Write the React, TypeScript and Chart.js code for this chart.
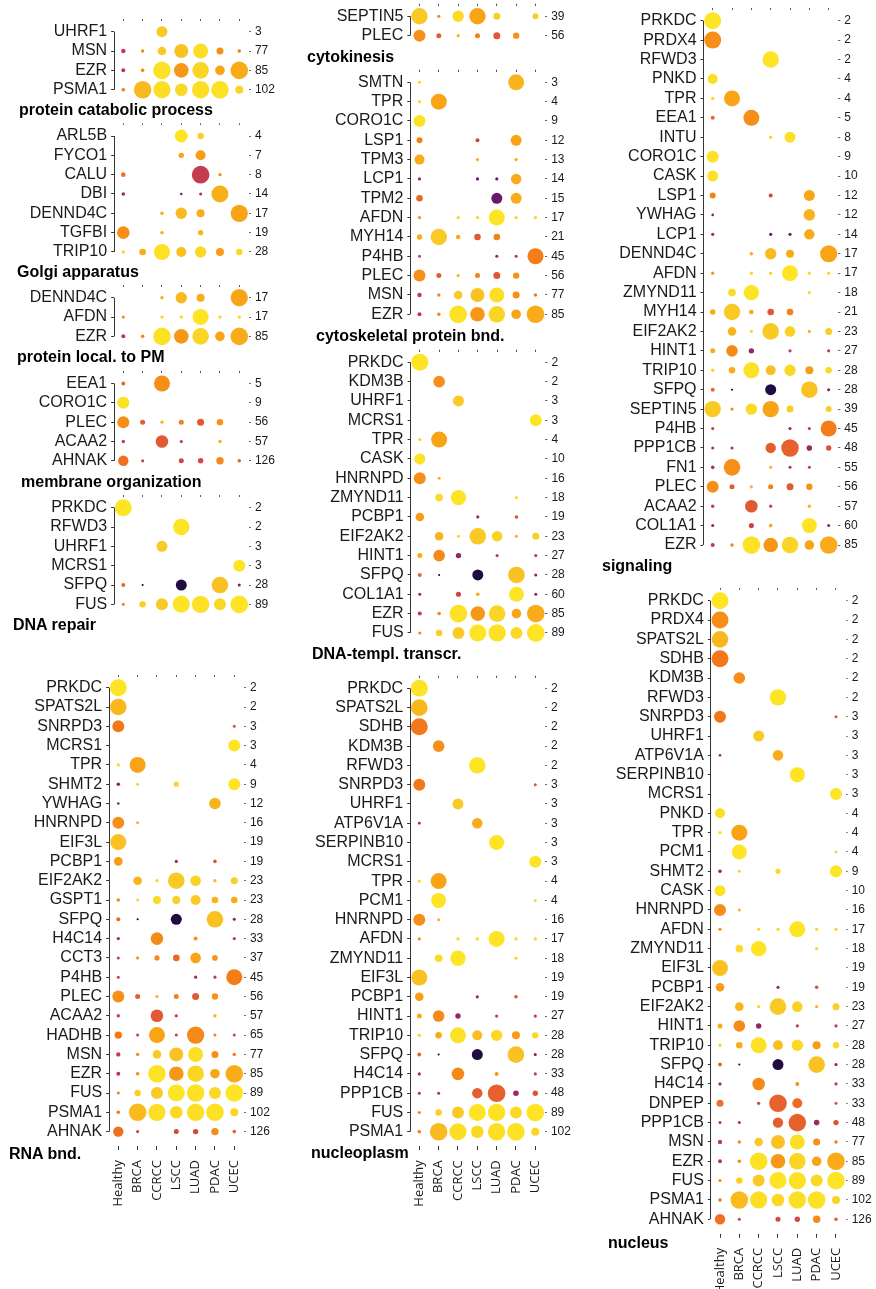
import React, { useEffect, useRef } from "react";
import { Chart, registerables } from "chart.js";
Chart.register(...registerables);

const CANCERS = ["Healthy", "BRCA", "CCRCC", "LSCC", "LUAD", "PDAC", "UCEC"];
type Cell = [number, number] | null; // [magnitude, colour value 0-100]
const _ = null;

// ---- per-gene values (Healthy, BRCA, CCRCC, LSCC, LUAD, PDAC, UCEC) ----
const UHRF1: Cell[] = [_, _, [5.5, 90], _, _, _, _];
const MSN: Cell[] = [[2.2, 52], [1.7, 74], [4.3, 90], [7, 88], [7.5, 97], [3.5, 75], [1.7, 70]];
const EZR: Cell[] = [[2, 50], [1.8, 74], [8.8, 98], [7.3, 77], [8.3, 94], [4.8, 80], [8.8, 82]];
const PSMA1: Cell[] = [[1.8, 70], [8.8, 86], [8.6, 97], [6.3, 95], [8.7, 97], [8.8, 98], [4, 94]];
const ARL5B: Cell[] = [_, _, _, [6.5, 99], [3.2, 92], _, _];
const FYCO1: Cell[] = [_, _, _, [2.7, 80], [5, 78], _, _];
const CALU: Cell[] = [[2.3, 68], _, _, _, [8.8, 52], [1.7, 76], _];
const DBI: Cell[] = [[1.8, 42], _, _, [1.3, 33], [1.5, 45], [8.5, 83], _];
const DENND4C: Cell[] = [_, _, [1.7, 82], [5.7, 86], [4, 82], _, [8.6, 80]];
const TGFBI: Cell[] = [[6.3, 75], _, [1.7, 82], _, [2.6, 84], _, _];
const TRIP10: Cell[] = [[1.7, 94], [3.3, 82], [8, 98], [5, 87], [5.7, 95], [4, 78], [3.2, 95]];
const AFDN: Cell[] = [[1.6, 76], _, [1.6, 94], [1.6, 94], [8, 99], [1.6, 94], [1.6, 94]];
const EEA1: Cell[] = [[2, 66], _, [8, 75], _, _, _, _];
const CORO1C: Cell[] = [[6, 98], _, _, _, _, _, _];
const PLEC: Cell[] = [[6, 75], [2.5, 63], [1.6, 84], [2.5, 72], [3.5, 62], [3.2, 76], _];
const ACAA2: Cell[] = [[1.7, 52], _, [6.3, 62], [1.6, 52], _, [1.7, 84], _];
const AHNAK: Cell[] = [[5.2, 68], [1.6, 55], _, [2.5, 57], [2.7, 57], [3.7, 74], [1.8, 64]];
const PRKDC: Cell[] = [[8.5, 99], _, _, _, _, _, _];
const RFWD3: Cell[] = [_, _, _, [8.2, 99], _, _, _];
const MCRS1: Cell[] = [_, _, _, _, _, _, [6, 99]];
const SFPQ: Cell[] = [[2, 66], [1, 3], _, [5.5, 12], _, [8.3, 88], [1.5, 35]];
const FUS: Cell[] = [[1.5, 72], [3.2, 92], [6, 90], [8.5, 99], [8.7, 98], [6, 95], [8.8, 99]];
const SEPTIN5: Cell[] = [[8.2, 90], [1.6, 74], [5.7, 96], [8.2, 80], [3.5, 92], _, [3, 92]];
const SMTN: Cell[] = [[1.6, 95], _, _, _, _, [8, 84], _];
const TPR: Cell[] = [[1.6, 95], [8, 80], _, _, _, _, _];
const LSP1: Cell[] = [[3, 72], _, _, [2, 55], _, [5.5, 80], _];
const TPM3: Cell[] = [[5, 82], _, _, [1.6, 82], _, [1.6, 82], _];
const LCP1: Cell[] = [[1.6, 42], _, _, [1.6, 30], [1.6, 32], [5.2, 82], _];
const TPM2: Cell[] = [[3.3, 66], _, _, _, [5.5, 30], [5.5, 82], _];
const MYH14: Cell[] = [[2.7, 82], [8.2, 90], [2.3, 82], [3.3, 62], [3.3, 72], _, _];
const P4HB: Cell[] = [[1.5, 52], _, _, _, [1.6, 42], [1.6, 52], [8, 71]];
const KDM3B: Cell[] = [_, [5.8, 75], _, _, _, _, _];
const CASK: Cell[] = [[5.5, 98], _, _, _, _, _, _];
const HNRNPD: Cell[] = [[6, 75], [1.5, 84], _, _, _, _, _];
const ZMYND11: Cell[] = [_, [3.8, 96], [7.7, 99], _, _, [1.6, 95], _];
const PCBP1: Cell[] = [[4.3, 78], _, _, [1.6, 42], _, [1.8, 60], _];
const EIF2AK2: Cell[] = [_, [4.3, 84], [1.6, 94], [8.3, 90], [5.3, 93], [1.6, 84], [3.5, 92]];
const HINT1: Cell[] = [[2.5, 82], [5.8, 74], [2.7, 40], _, [1.6, 52], _, [1.6, 52]];
const COL1A1: Cell[] = [[1.5, 38], _, [2.6, 55], [1.8, 80], _, [7.5, 99], [1.5, 38]];
const SPATS2L: Cell[] = [[8.3, 85], _, _, _, _, _, _];
const SNRPD3: Cell[] = [[6, 70], _, _, _, _, _, [1.5, 60]];
const SHMT2: Cell[] = [[1.8, 40], [1.5, 94], _, [2.6, 94], _, _, [6, 99]];
const YWHAG: Cell[] = [[1.3, 35], _, _, _, _, [5.8, 84], _];
const EIF3L: Cell[] = [[8, 88], _, _, _, _, _, _];
const GSPT1: Cell[] = [[1.8, 74], [1.5, 94], [4, 96], [4, 92], [5, 90], [3.3, 84], [3.3, 82]];
const H4C14: Cell[] = [[1.6, 42], _, [6.3, 74], _, [2, 76], _, [1.6, 52]];
const CCT3: Cell[] = [[1.5, 52], [1.6, 76], [2.6, 74], [3.3, 66], [5.3, 80], [2.8, 76], _];
const HADHB: Cell[] = [[3.7, 70], [1.5, 52], [8, 80], [1.5, 52], [8.7, 74], [1.5, 72], [1.5, 55]];
const SDHB: Cell[] = [[8.5, 70], _, _, _, _, _, _];
const ATP6V1A: Cell[] = [[1.4, 45], _, _, [5.3, 82], _, _, _];
const SERPINB10: Cell[] = [_, _, _, _, [7.5, 99], _, _];
const PCM1: Cell[] = [_, [7.5, 99], _, _, _, _, [1.5, 95]];
const PPP1CB: Cell[] = [[1.5, 45], [1.5, 45], _, [5.2, 63], [8.8, 64], [2.8, 42], [2.7, 60]];
const PRDX4: Cell[] = [[8.5, 75], _, _, _, _, _, _];
const PNKD: Cell[] = [[5, 97], _, _, _, _, _, _];
const INTU: Cell[] = [_, _, _, [1.6, 94], [5.5, 97], _, _];
const FN1: Cell[] = [[1.8, 45], [8.3, 75], _, [1.5, 82], [1.5, 45], [1.5, 50], _];
const DNPEP: Cell[] = [[3.5, 68], _, [1.6, 55], [8.8, 64], [5, 67], _, [1.5, 60]];

const GENES: Record<string, Cell[]> = {
  UHRF1, MSN, EZR, PSMA1, ARL5B, FYCO1, CALU, DBI, DENND4C, TGFBI, TRIP10, AFDN, EEA1, CORO1C,
  PLEC, ACAA2, AHNAK, PRKDC, RFWD3, MCRS1, SFPQ, FUS, SEPTIN5, SMTN, TPR, LSP1, TPM3, LCP1, TPM2,
  MYH14, P4HB, KDM3B, CASK, HNRNPD, ZMYND11, PCBP1, EIF2AK2, HINT1, COL1A1, SPATS2L, SNRPD3, SHMT2,
  YWHAG, EIF3L, GSPT1, H4C14, CCT3, HADHB, SDHB, ATP6V1A, SERPINB10, PCM1, PPP1CB, PRDX4, PNKD,
  INTU, FN1, DNPEP,
};

const COUNTS: Record<string, number> = {
  PRKDC: 2, PRDX4: 2, SPATS2L: 2, SDHB: 2, KDM3B: 2, RFWD3: 2, UHRF1: 3, SNRPD3: 3, ATP6V1A: 3,
  SERPINB10: 3, MCRS1: 3, SMTN: 3, ARL5B: 4, PNKD: 4, TPR: 4, PCM1: 4, EEA1: 5, FYCO1: 7, CALU: 8,
  INTU: 8, CORO1C: 9, SHMT2: 9, CASK: 10, LSP1: 12, YWHAG: 12, TPM3: 13, DBI: 14, LCP1: 14, TPM2: 15,
  HNRNPD: 16, DENND4C: 17, AFDN: 17, ZMYND11: 18, TGFBI: 19, EIF3L: 19, PCBP1: 19, MYH14: 21,
  EIF2AK2: 23, GSPT1: 23, HINT1: 27, TRIP10: 28, SFPQ: 28, H4C14: 33, DNPEP: 33, CCT3: 37,
  SEPTIN5: 39, P4HB: 45, PPP1CB: 48, FN1: 55, PLEC: 56, ACAA2: 57, COL1A1: 60, HADHB: 65, MSN: 77,
  EZR: 85, FUS: 89, PSMA1: 102, AHNAK: 126,
};

// ---- panel gene lists ----
const G_CATABOLIC = ["UHRF1", "MSN", "EZR", "PSMA1"];
const G_GOLGI = ["ARL5B", "FYCO1", "CALU", "DBI", "DENND4C", "TGFBI", "TRIP10"];
const G_PM = ["DENND4C", "AFDN", "EZR"];
const G_MEMBRANE = ["EEA1", "CORO1C", "PLEC", "ACAA2", "AHNAK"];
const G_DNAREP = ["PRKDC", "RFWD3", "UHRF1", "MCRS1", "SFPQ", "FUS"];
const G_RNA = ["PRKDC", "SPATS2L", "SNRPD3", "MCRS1", "TPR", "SHMT2", "YWHAG", "HNRNPD", "EIF3L", "PCBP1",
  "EIF2AK2", "GSPT1", "SFPQ", "H4C14", "CCT3", "P4HB", "PLEC", "ACAA2", "HADHB", "MSN", "EZR", "FUS",
  "PSMA1", "AHNAK"];
const G_CYTOKIN = ["SEPTIN5", "PLEC"];
const G_CYTOSK = ["SMTN", "TPR", "CORO1C", "LSP1", "TPM3", "LCP1", "TPM2", "AFDN", "MYH14", "P4HB", "PLEC",
  "MSN", "EZR"];
const G_TRANSCR = ["PRKDC", "KDM3B", "UHRF1", "MCRS1", "TPR", "CASK", "HNRNPD", "ZMYND11", "PCBP1",
  "EIF2AK2", "HINT1", "SFPQ", "COL1A1", "EZR", "FUS"];
const G_NUCLEOPLASM = ["PRKDC", "SPATS2L", "SDHB", "KDM3B", "RFWD3", "SNRPD3", "UHRF1", "ATP6V1A",
  "SERPINB10", "MCRS1", "TPR", "PCM1", "HNRNPD", "AFDN", "ZMYND11", "EIF3L", "PCBP1", "HINT1", "TRIP10",
  "SFPQ", "H4C14", "PPP1CB", "FUS", "PSMA1"];
const G_SIGNALING = ["PRKDC", "PRDX4", "RFWD3", "PNKD", "TPR", "EEA1", "INTU", "CORO1C", "CASK", "LSP1",
  "YWHAG", "LCP1", "DENND4C", "AFDN", "ZMYND11", "MYH14", "EIF2AK2", "HINT1", "TRIP10", "SFPQ", "SEPTIN5",
  "P4HB", "PPP1CB", "FN1", "PLEC", "ACAA2", "COL1A1", "EZR"];
const G_NUCLEUS = ["PRKDC", "PRDX4", "SPATS2L", "SDHB", "KDM3B", "RFWD3", "SNRPD3", "UHRF1", "ATP6V1A",
  "SERPINB10", "MCRS1", "PNKD", "TPR", "PCM1", "SHMT2", "CASK", "HNRNPD", "AFDN", "ZMYND11", "EIF3L",
  "PCBP1", "EIF2AK2", "HINT1", "TRIP10", "SFPQ", "H4C14", "DNPEP", "PPP1CB", "MSN", "EZR", "FUS", "PSMA1",
  "AHNAK"];

type PanelSpec = {
  title: string; genes: string[]; cx: number; cy: number; rowH?: number;
  tx: number; ty: number; axis?: boolean;
};

const CELL = 19.33;
const LW = 110;

const PANELS: PanelSpec[] = [
  { title: "protein catabolic process", genes: G_CATABOLIC, cx: 123.3, cy: 31.7, tx: 19, ty: 115 },
  { title: "Golgi apparatus", genes: G_GOLGI, cx: 123.3, cy: 136, tx: 17, ty: 277 },
  { title: "protein local. to PM", genes: G_PM, cx: 123.3, cy: 297.7, tx: 17, ty: 362 },
  { title: "membrane organization", genes: G_MEMBRANE, cx: 123.3, cy: 383.5, tx: 21, ty: 487 },
  { title: "DNA repair", genes: G_DNAREP, cx: 123.3, cy: 507.7, tx: 13, ty: 630 },
  { title: "RNA bnd.", genes: G_RNA, cx: 118.3, cy: 687.7, rowH: 19.3, tx: 9, ty: 1159, axis: true },
  { title: "cytokinesis", genes: G_CYTOKIN, cx: 419.5, cy: 16.3, tx: 307, ty: 62 },
  { title: "cytoskeletal protein bnd.", genes: G_CYTOSK, cx: 419.5, cy: 82.3, tx: 316, ty: 341 },
  { title: "DNA-templ. transcr.", genes: G_TRANSCR, cx: 419.8, cy: 362.3, tx: 312, ty: 659 },
  { title: "nucleoplasm", genes: G_NUCLEOPLASM, cx: 419.3, cy: 688.3, rowH: 19.28, tx: 311, ty: 1158, axis: true },
  { title: "signaling", genes: G_SIGNALING, cx: 712.7, cy: 20.7, rowH: 19.42, tx: 602, ty: 571 },
  { title: "nucleus", genes: G_NUCLEUS, cx: 720, cy: 600.7, tx: 608, ty: 1248, axis: true },
];

const STOPS: [number, string][] = [
  [0, "#000004"], [10, "#160b39"], [20, "#420a68"], [30, "#6a176e"], [40, "#932667"],
  [50, "#bc3754"], [60, "#dd513a"], [70, "#f37819"], [80, "#f9a416"], [90, "#f9c925"], [100, "#fde725"],
];
function hex(h: string) {
  return [parseInt(h.slice(1, 3), 16), parseInt(h.slice(3, 5), 16), parseInt(h.slice(5, 7), 16)];
}
function colorOf(v: number) {
  for (let i = 0; i < STOPS.length - 1; i++) {
    const [a, ca] = STOPS[i];
    const [b, cb] = STOPS[i + 1];
    if (v <= b) {
      const t = (v - a) / (b - a);
      const A = hex(ca), B = hex(cb);
      const c = A.map((x, k) => Math.round(x + (B[k] - x) * t));
      return `rgb(${c[0]},${c[1]},${c[2]})`;
    }
  }
  return STOPS[STOPS.length - 1][1];
}
const radiusOf = (m: number) => m;

const FONT = "'Liberation Sans', Arial, Helvetica, sans-serif";

const cappedAxis = {
  id: "cappedAxis",
  beforeDatasetsDraw(chart: any) {
    const ys = chart.scales.y;
    const n = ys.ticks.length;
    const ctx = chart.ctx;
    const x = Math.round(chart.chartArea.left) + 0.5;
    ctx.save();
    ctx.strokeStyle = "#333";
    ctx.lineWidth = 1;
    ctx.beginPath();
    ctx.moveTo(x, ys.getPixelForValue(0));
    ctx.lineTo(x, ys.getPixelForValue(n - 1));
    ctx.stroke();
    ctx.restore();
  },
};

function Panel({ p }: { p: PanelSpec }) {
  const ref = useRef<HTMLCanvasElement>(null);
  const rowH = p.rowH ?? CELL;
  const n = p.genes.length;
  const yMin = -0.55;
  const yMax = n - 1 + (p.axis ? 0.75 : 0.55);
  const chartH = (yMax - yMin) * rowH;
  const chartTop = p.cy + yMin * rowH;
  const chartLeft = p.cx - CELL / 2;
  const top = Math.floor(chartTop - 16);
  const left = Math.floor(chartLeft - LW);
  const T = chartTop - top;
  const L = chartLeft - left;
  const BH = p.axis ? 90 : 16;
  const H = Math.ceil(T + chartH + BH);
  const bottomSpace = H - T - chartH;
  const W = 300;
  const RW = W - L - 7 * CELL;

  useEffect(() => {
    if (!ref.current) return;
    const data: any[] = [];
    const colors: string[] = [];
    p.genes.forEach((g, gi) => {
      (GENES[g] || []).forEach((c, ci) => {
        if (c) {
          data.push({ x: ci, y: gi, r: radiusOf(c[0]) });
          colors.push(colorOf(c[1]));
        }
      });
    });
    const colTicks = (s: any) => { s.ticks = CANCERS.map((_, i) => ({ value: i })); };
    const rowTicks = (s: any) => { s.ticks = p.genes.map((_, i) => ({ value: i })); };
    const chart = new Chart(ref.current, {
      type: "bubble",
      data: {
        datasets: [{
          data, backgroundColor: colors, borderWidth: 0, hoverBorderWidth: 0, hoverRadius: 0,
          clip: false as any,
        }],
      },
      options: {
        responsive: false,
        animation: false,
        events: [],
        layout: { padding: { left: 0, right: 0, top: 0, bottom: p.axis ? 0 : bottomSpace }, autoPadding: false } as any,
        plugins: { legend: { display: false }, tooltip: { enabled: false } },
        scales: {
          x: {
            type: "linear", position: "bottom", min: -0.5, max: 6.5, bounds: "data",
            display: !!p.axis,
            afterBuildTicks: colTicks,
            afterFit: (s: any) => { s.height = p.axis ? bottomSpace : 0; },
            ticks: {
              autoSkip: false, minRotation: 90, maxRotation: 90, padding: 10, color: "#1a1a1a",
              font: { family: "'Open Sans', sans-serif", size: 13 },
              callback: (v: any) => CANCERS[v as number],
            },
            grid: { drawOnChartArea: false, tickLength: 4, color: "#333" },
            border: { display: false },
          },
          xt: {
            type: "linear", position: "top", min: -0.5, max: 6.5, bounds: "data",
            afterBuildTicks: colTicks,
            afterFit: (s: any) => { s.height = T; },
            ticks: { display: false },
            grid: { drawOnChartArea: false, tickLength: 2, color: "#555" },
            border: { display: false },
          },
          y: {
            type: "linear", position: "left", min: yMin, max: yMax, reverse: true, bounds: "data",
            afterBuildTicks: rowTicks,
            afterFit: (s: any) => { s.width = L; },
            ticks: {
              autoSkip: false, padding: 4, color: "#1a1a1a",
              font: { family: FONT, size: 16 },
              callback: (v: any) => p.genes[v as number],
            },
            grid: { drawOnChartArea: false, tickLength: 2.5, color: "#333" },
            border: { display: false },
          },
          yr: {
            type: "linear", position: "right", min: yMin, max: yMax, reverse: true, bounds: "data",
            afterBuildTicks: rowTicks,
            afterFit: (s: any) => { s.width = RW; },
            ticks: {
              autoSkip: false, padding: 4, color: "#1a1a1a",
              font: { family: FONT, size: 12 },
              callback: (v: any) => String(COUNTS[p.genes[v as number]]),
            },
            grid: { drawOnChartArea: false, tickLength: 2, color: "#666" },
            border: { display: false },
          },
        } as any,
      },
      plugins: [cappedAxis],
    });
    return () => chart.destroy();
  }, []);

  return (
    <canvas
      ref={ref}
      width={W}
      height={H}
      style={{ position: "absolute", left, top, width: W, height: H }}
    />
  );
}

export default function App() {
  return (
    <div style={{ position: "absolute", left: 0, top: 0, width: 876, height: 1289, overflow: "hidden", background: "#fff" }}>
      {PANELS.map((p) => (
        <Panel key={p.title} p={p} />
      ))}
      {PANELS.map((p) => (
        <div
          key={"t" + p.title}
          style={{
            position: "absolute", left: p.tx, top: p.ty - 14.5, fontFamily: FONT, fontWeight: "bold",
            fontSize: 16, lineHeight: "18px", color: "#000", whiteSpace: "nowrap",
          }}
        >
          {p.title}
        </div>
      ))}
    </div>
  );
}
